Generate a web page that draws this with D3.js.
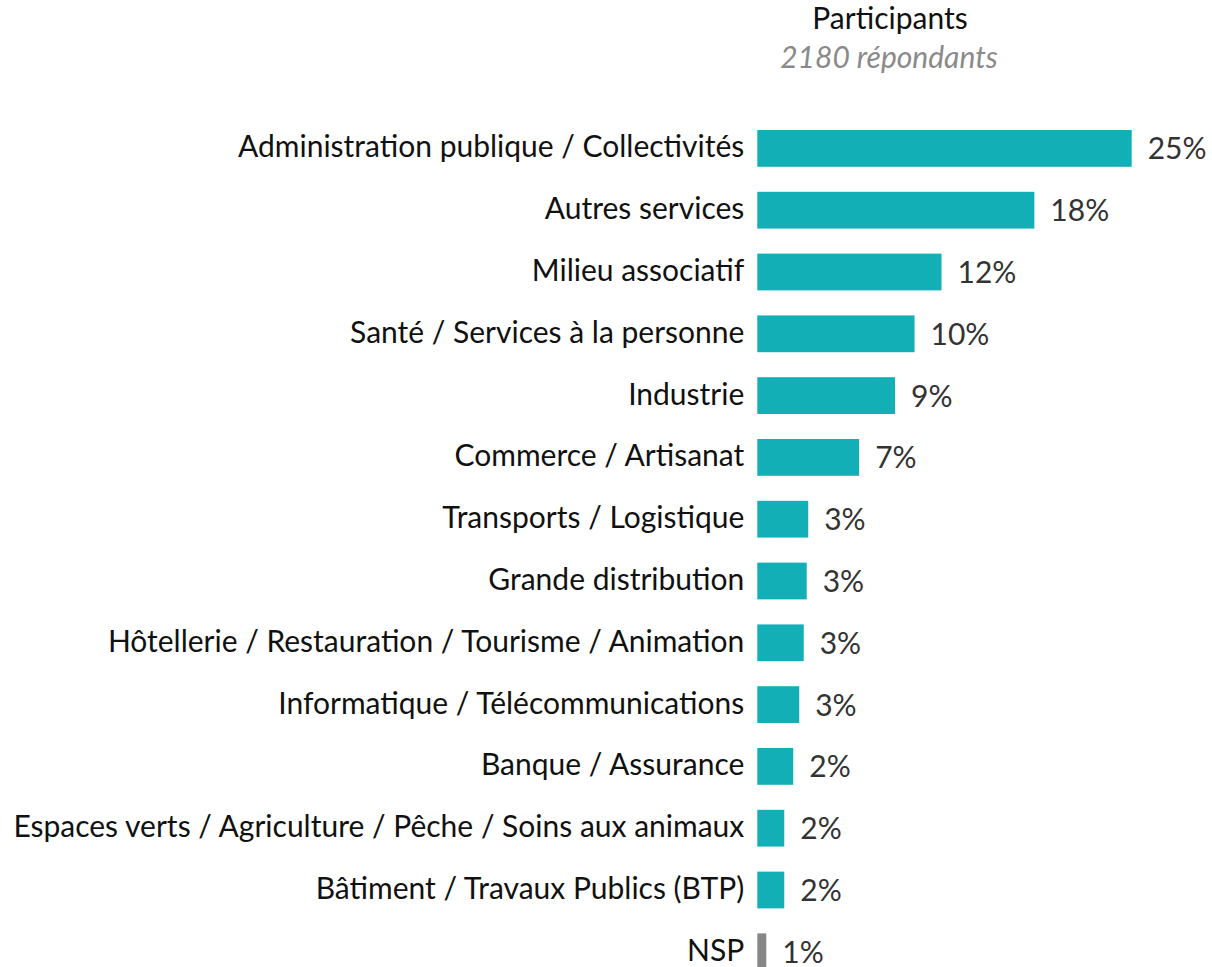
<!DOCTYPE html>
<html>
<script src="https://d3js.org/d3.v7.min.js"></script>

<head>
    <style>
        body {
            margin: 0;
            background-color: #ffffff;
        }

        svg {
            display: block;
            font-family: Lato, "Open Sans", sans-serif;
        }
    </style>
</head>

<body>
</body>
<script>
    const width = 1212,
        height = 967;

    // sectors, top to bottom
    const CATEGORIES = [
        "Administration publique / Collectivités",
        "Autres services",
        "Milieu associatif",
        "Santé / Services à la personne",
        "Industrie",
        "Commerce / Artisanat",
        "Transports / Logistique",
        "Grande distribution",
        "Hôtellerie / Restauration / Tourisme / Animation",
        "Informatique / Télécommunications",
        "Banque / Assurance",
        "Espaces verts / Agriculture / Pêche / Soins aux animaux",
        "Bâtiment / Travaux Publics (BTP)",
        "NSP"
    ];
    // share of respondents (%)
    const VALUES = [25.0, 18.5, 12.3, 10.5, 9.2, 6.8, 3.4, 3.3, 3.1, 2.8, 2.4, 1.8, 1.8, 0.6];
    // printed labels
    const LABELS = ["25%", "18%", "12%", "10%", "9%", "7%", "3%", "3%", "3%", "3%", "2%", "2%", "2%", "1%"];

    const TITLE = "Participants";
    const SUBTITLE = "2180 répondants";

    const svg = d3.select("body").append("svg").attr("width", width).attr("height", height);

    const x = d3.scaleLinear().domain([0, 25]).range([757.3, 1131.7]);
    const y = d3.scaleBand()
        .domain(CATEGORIES)
        .range([117.5, 982.7])
        .paddingInner(0.405)
        .paddingOuter(0.2025);

    function draw() {
        svg.append("text")
            .attr("x", 890)
            .attr("y", 29)
            .attr("text-anchor", "middle")
            .attr("font-size", 30)
            .attr("fill", "#111")
            .text(TITLE);
        svg.append("text")
            .attr("x", 889)
            .attr("y", 68)
            .attr("text-anchor", "middle")
            .attr("font-size", 30)
            .attr("font-style", "italic")
            .attr("fill", "#8a8a8a")
            .text(SUBTITLE);

        CATEGORIES.forEach((c, i) => {
            const yc = y(c) + y.bandwidth() / 2;
            svg.append("rect")
                .attr("x", x(0))
                .attr("y", y(c))
                .attr("width", x(VALUES[i]) - x(0))
                .attr("height", y.bandwidth())
                .attr("fill", c === "NSP" ? "#878787" : "#13afb6");
            svg.append("text")
                .attr("x", x(0) - 13)
                .attr("y", yc + 9)
                .attr("text-anchor", "end")
                .attr("font-size", 30)
                .attr("fill", "#111")
                .text(c);
            svg.append("text")
                .attr("x", x(VALUES[i]) + 16)
                .attr("y", yc + 11)
                .attr("font-size", 30)
                .attr("fill", "#333")
                .text(LABELS[i]);
        });
    }

    draw();
</script>

</html>
